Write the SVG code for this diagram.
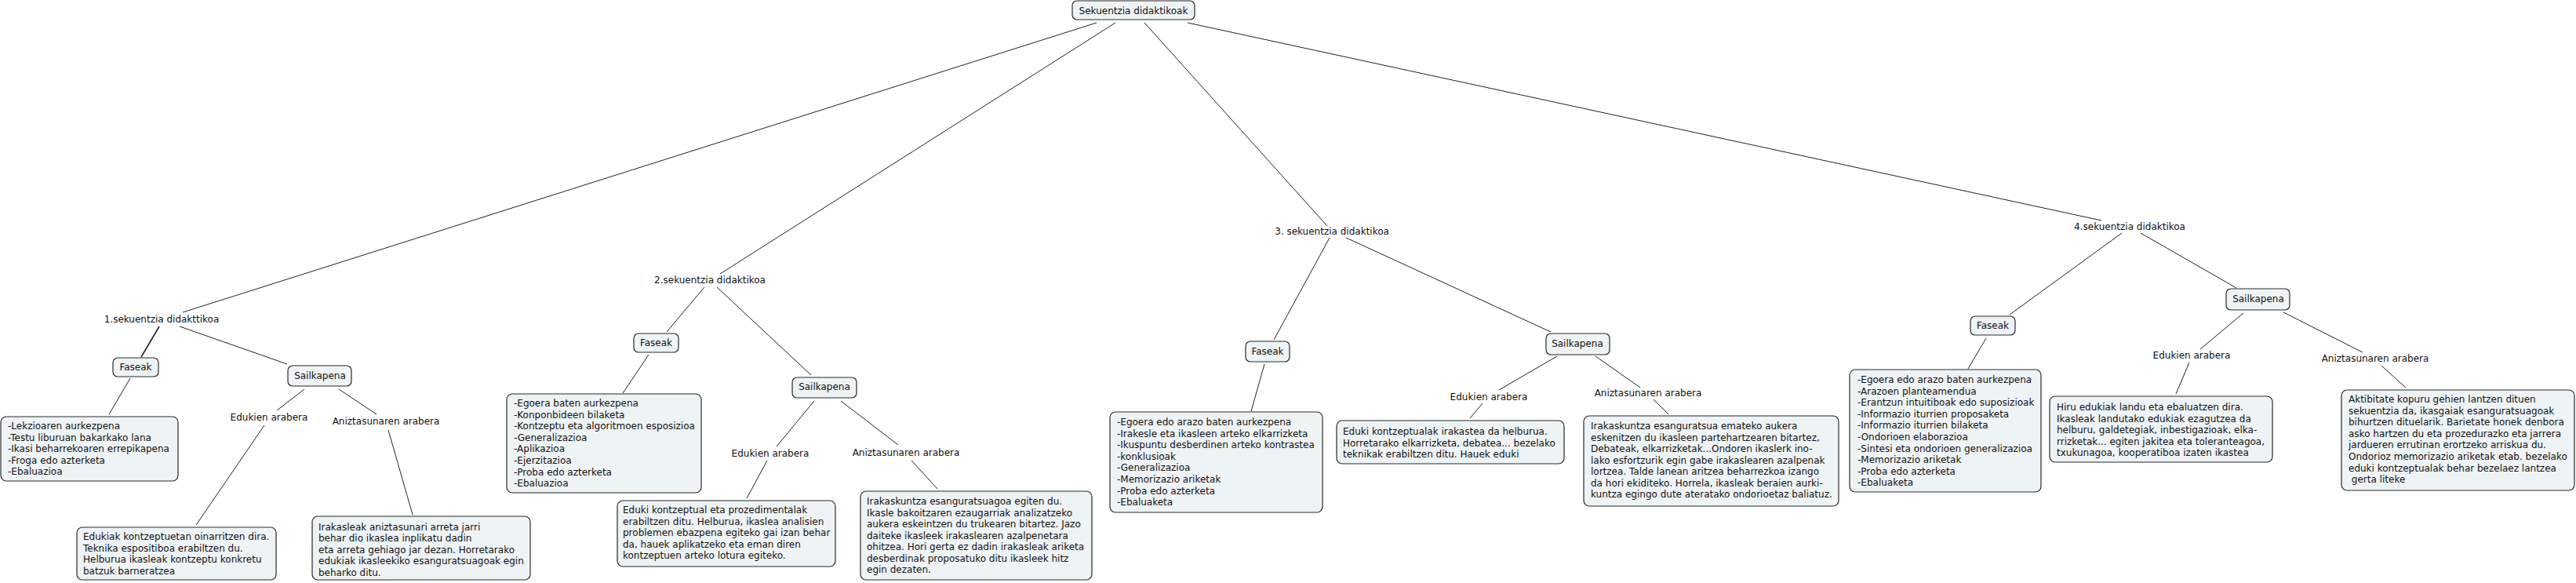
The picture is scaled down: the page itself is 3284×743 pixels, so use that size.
<svg xmlns="http://www.w3.org/2000/svg" width="3284" height="743" viewBox="0 0 3284 743">
<style>
text{font-family:"DejaVu Sans",Verdana,sans-serif;font-size:12px;fill:#111}
.c{text-anchor:middle}
rect{fill:#eef3f5;stroke:#2a2a2a;stroke-width:1.2}
#connectors line{stroke:#222;stroke-width:1}
</style>
<rect x="0" y="0" width="3284" height="743" style="fill:#fff;stroke:none"/>
<g id="connectors">
<line x1="1398" y1="29" x2="233" y2="398"/>
<line x1="1422" y1="29" x2="918" y2="349"/>
<line x1="1459" y1="29" x2="1692" y2="288"/>
<line x1="1514" y1="29" x2="2679" y2="281"/>
<line x1="203" y1="416" x2="180" y2="455" style="stroke-width:1.6"/>
<line x1="166" y1="482" x2="139" y2="528"/>
<line x1="229" y1="416" x2="366" y2="464"/>
<line x1="388" y1="496" x2="353" y2="523"/>
<line x1="337" y1="542" x2="250" y2="669"/>
<line x1="432" y1="496" x2="480" y2="528"/>
<line x1="495" y1="548" x2="526" y2="656"/>
<line x1="898" y1="366" x2="850" y2="423"/>
<line x1="827" y1="452" x2="794" y2="501"/>
<line x1="914" y1="366" x2="1034" y2="478"/>
<line x1="1038" y1="511" x2="990" y2="569"/>
<line x1="978" y1="587" x2="952" y2="635"/>
<line x1="1072" y1="511" x2="1145" y2="567"/>
<line x1="1162" y1="587" x2="1195" y2="623"/>
<line x1="1695" y1="303" x2="1624" y2="433"/>
<line x1="1612" y1="464" x2="1595" y2="524"/>
<line x1="1716" y1="303" x2="1977" y2="423"/>
<line x1="1985" y1="454" x2="1911" y2="497"/>
<line x1="1890" y1="514" x2="1874" y2="533"/>
<line x1="2034" y1="454" x2="2091" y2="494"/>
<line x1="2108" y1="509" x2="2127" y2="528"/>
<line x1="2705" y1="297" x2="2562" y2="401"/>
<line x1="2532" y1="431" x2="2509" y2="470"/>
<line x1="2729" y1="297" x2="2851" y2="367"/>
<line x1="2860" y1="399" x2="2805" y2="445"/>
<line x1="2791" y1="462" x2="2774" y2="502"/>
<line x1="2911" y1="398" x2="3012" y2="449"/>
<line x1="3036" y1="466" x2="3067" y2="494"/>
</g>
<g id="root"><rect x="1367" y="1" width="156" height="24" rx="6"/><text class="c" x="1445" y="18">Sekuentzia didaktikoak</text></g>

<g id="seq1"><text class="c" x="206" y="411">1.sekuentzia didakttikoa</text></g>
<g id="seq1-faseak"><rect x="144" y="456" width="58" height="24" rx="6"/><text class="c" x="173" y="472">Faseak</text></g>
<g id="seq1-faseak-list"><rect x="1" y="531" width="226" height="82" rx="7"/>
<text x="10" y="547"><tspan x="10">-Lekzioaren aurkezpena</tspan><tspan x="10" dy="14.6">-Testu liburuan bakarkako lana</tspan><tspan x="10" dy="14.6">-Ikasi beharrekoaren errepikapena</tspan><tspan x="10" dy="14.6">-Froga edo azterketa</tspan><tspan x="10" dy="14.6">-Ebaluazioa</tspan></text></g>
<g id="seq1-sailkapena"><rect x="367" y="466" width="81" height="26" rx="6"/><text class="c" x="408" y="483">Sailkapena</text></g>
<g id="seq1-edukien"><text class="c" x="343" y="536">Edukien arabera</text></g>
<g id="seq1-edukien-box"><rect x="98" y="672" width="254" height="67" rx="7"/>
<text x="106" y="688"><tspan x="106">Edukiak kontzeptuetan oinarritzen dira.</tspan><tspan x="106" dy="14.6">Teknika espositiboa erabiltzen du.</tspan><tspan x="106" dy="14.6">Helburua ikasleak kontzeptu konkretu</tspan><tspan x="106" dy="14.6">batzuk barneratzea</tspan></text></g>
<g id="seq1-aniz"><text class="c" x="492" y="541">Aniztasunaren arabera</text></g>
<g id="seq1-aniz-box"><rect x="398" y="658" width="278" height="81" rx="7"/>
<text x="406" y="676"><tspan x="406">Irakasleak aniztasunari arreta jarri</tspan><tspan x="406" dy="14.4">behar dio ikaslea inplikatu dadin</tspan><tspan x="406" dy="14.4">eta arreta gehiago jar dezan. Horretarako</tspan><tspan x="406" dy="14.4">edukiak ikasleekiko esanguratsuagoak egin</tspan><tspan x="406" dy="14.4">beharko ditu.</tspan></text></g>

<g id="seq2"><text class="c" x="905" y="361">2.sekuentzia didaktikoa</text></g>
<g id="seq2-faseak"><rect x="808" y="425" width="57" height="24" rx="6"/><text class="c" x="836.5" y="441">Faseak</text></g>
<g id="seq2-faseak-list"><rect x="646" y="502" width="248" height="126" rx="7"/>
<text x="655" y="518"><tspan x="655">-Egoera baten aurkezpena</tspan><tspan x="655" dy="14.6">-Konponbideen bilaketa</tspan><tspan x="655" dy="14.6">-Kontzeptu eta algoritmoen esposizioa</tspan><tspan x="655" dy="14.6">-Generalizazioa</tspan><tspan x="655" dy="14.6">-Aplikazioa</tspan><tspan x="655" dy="14.6">-Ejerzitazioa</tspan><tspan x="655" dy="14.6">-Proba edo azterketa</tspan><tspan x="655" dy="14.6">-Ebaluazioa</tspan></text></g>
<g id="seq2-sailkapena"><rect x="1010" y="481" width="82" height="26" rx="6"/><text class="c" x="1051" y="497">Sailkapena</text></g>
<g id="seq2-edukien"><text class="c" x="982" y="582">Edukien arabera</text></g>
<g id="seq2-edukien-box"><rect x="787" y="638" width="278" height="84" rx="7"/>
<text x="794" y="654"><tspan x="794">Eduki kontzeptual eta prozedimentalak</tspan><tspan x="794" dy="14.6">erabiltzen ditu. Helburua, ikaslea analisien</tspan><tspan x="794" dy="14.6">problemen ebazpena egiteko gai izan behar</tspan><tspan x="794" dy="14.6">da, hauek aplikatzeko eta eman diren</tspan><tspan x="794" dy="14.6">kontzeptuen arteko lotura egiteko.</tspan></text></g>
<g id="seq2-aniz"><text class="c" x="1155" y="581">Aniztasunaren arabera</text></g>
<g id="seq2-aniz-box"><rect x="1097" y="626" width="295" height="113" rx="7"/>
<text x="1105" y="643"><tspan x="1105">Irakaskuntza esanguratsuagoa egiten du.</tspan><tspan x="1105" dy="14.5">Ikasle bakoitzaren ezaugarriak analizatzeko</tspan><tspan x="1105" dy="14.5">aukera eskeintzen du trukearen bitartez. Jazo</tspan><tspan x="1105" dy="14.5">daiteke ikasleek irakaslearen azalpenetara</tspan><tspan x="1105" dy="14.5">ohitzea. Hori gerta ez dadin irakasleak ariketa</tspan><tspan x="1105" dy="14.5">desberdinak proposatuko ditu ikasleek hitz</tspan><tspan x="1105" dy="14.5">egin dezaten.</tspan></text></g>

<g id="seq3"><text class="c" x="1698" y="299">3. sekuentzia didaktikoa</text></g>
<g id="seq3-faseak"><rect x="1588" y="435" width="56" height="26" rx="6"/><text class="c" x="1616" y="452">Faseak</text></g>
<g id="seq3-faseak-list"><rect x="1415" y="525" width="271" height="128" rx="7"/>
<text x="1424" y="542"><tspan x="1424">-Egoera edo arazo baten aurkezpena</tspan><tspan x="1424" dy="14.6">-Irakesle eta ikasleen arteko elkarrizketa</tspan><tspan x="1424" dy="14.6">-Ikuspuntu desberdinen arteko kontrastea</tspan><tspan x="1424" dy="14.6">-konklusioak</tspan><tspan x="1424" dy="14.6">-Generalizazioa</tspan><tspan x="1424" dy="14.6">-Memorizazio ariketak</tspan><tspan x="1424" dy="14.6">-Proba edo azterketa</tspan><tspan x="1424" dy="14.6">-Ebaluaketa</tspan></text></g>
<g id="seq3-sailkapena"><rect x="1971" y="425" width="81" height="27" rx="6"/><text class="c" x="2011" y="442">Sailkapena</text></g>
<g id="seq3-edukien"><text class="c" x="1898" y="510">Edukien arabera</text></g>
<g id="seq3-edukien-box"><rect x="1704" y="536" width="290" height="55" rx="7"/>
<text x="1712" y="554"><tspan x="1712">Eduki kontzeptualak irakastea da helburua.</tspan><tspan x="1712" dy="14.6">Horretarako elkarrizketa, debatea... bezelako</tspan><tspan x="1712" dy="14.6">teknikak erabiltzen ditu. Hauek eduki</tspan></text></g>
<g id="seq3-aniz"><text class="c" x="2101" y="505">Aniztasunaren arabera</text></g>
<g id="seq3-aniz-box"><rect x="2019" y="530" width="325" height="115" rx="7"/>
<text x="2028" y="547"><tspan x="2028">Irakaskuntza esanguratsua emateko aukera</tspan><tspan x="2028" dy="14.5">eskenitzen du ikasleen partehartzearen bitartez,</tspan><tspan x="2028" dy="14.5">Debateak, elkarrizketak...Ondoren ikaslerk ino-</tspan><tspan x="2028" dy="14.5">lako esfortzurik egin gabe irakaslearen azalpenak</tspan><tspan x="2028" dy="14.5">lortzea. Talde lanean aritzea beharrezkoa izango</tspan><tspan x="2028" dy="14.5">da hori ekiditeko. Horrela, ikasleak beraien aurki-</tspan><tspan x="2028" dy="14.5">kuntza egingo dute ateratako ondorioetaz baliatuz.</tspan></text></g>

<g id="seq4"><text class="c" x="2715" y="293">4.sekuentzia didaktikoa</text></g>
<g id="seq4-faseak"><rect x="2512" y="403" width="57" height="24" rx="6"/><text class="c" x="2540.5" y="419">Faseak</text></g>
<g id="seq4-faseak-list"><rect x="2358" y="471" width="244" height="156" rx="7"/>
<text x="2368" y="488"><tspan x="2368">-Egoera edo arazo baten aurkezpena</tspan><tspan x="2368" dy="14.6">-Arazoen planteamendua</tspan><tspan x="2368" dy="14.6">-Erantzun intuitiboak edo suposizioak</tspan><tspan x="2368" dy="14.6">-Informazio iturrien proposaketa</tspan><tspan x="2368" dy="14.6">-Informazio iturrien bilaketa</tspan><tspan x="2368" dy="14.6">-Ondorioen elaborazioa</tspan><tspan x="2368" dy="14.6">-Sintesi eta ondorioen generalizazioa</tspan><tspan x="2368" dy="14.6">-Memorizazio ariketak</tspan><tspan x="2368" dy="14.6">-Proba edo azterketa</tspan><tspan x="2368" dy="14.6">-Ebaluaketa</tspan></text></g>
<g id="seq4-sailkapena"><rect x="2838" y="368" width="81" height="27" rx="6"/><text class="c" x="2879" y="385">Sailkapena</text></g>
<g id="seq4-edukien"><text class="c" x="2794" y="457">Edukien arabera</text></g>
<g id="seq4-edukien-box"><rect x="2613" y="505" width="284" height="84" rx="7"/>
<text x="2622" y="523"><tspan x="2622">Hiru edukiak landu eta ebaluatzen dira.</tspan><tspan x="2622" dy="14.5">Ikasleak landutako edukiak ezagutzea da</tspan><tspan x="2622" dy="14.5">helburu, galdetegiak, inbestigazioak, elka-</tspan><tspan x="2622" dy="14.5">rrizketak... egiten jakitea eta toleranteagoa,</tspan><tspan x="2622" dy="14.5">txukunagoa, kooperatiboa izaten ikastea</tspan></text></g>
<g id="seq4-aniz"><text class="c" x="3028" y="461">Aniztasunaren arabera</text></g>
<g id="seq4-aniz-box"><rect x="2985" y="497" width="297" height="128" rx="7"/>
<text x="2994" y="513"><tspan x="2994">Aktibitate kopuru gehien lantzen dituen</tspan><tspan x="2994" dy="14.6">sekuentzia da, ikasgaiak esanguratsuagoak</tspan><tspan x="2994" dy="14.6">bihurtzen dituelarik. Barietate honek denbora</tspan><tspan x="2994" dy="14.6">asko hartzen du eta prozedurazko eta jarrera</tspan><tspan x="2994" dy="14.6">jardueren errutinan erortzeko arriskua du.</tspan><tspan x="2994" dy="14.6">Ondorioz memorizazio ariketak etab. bezelako</tspan><tspan x="2994" dy="14.6">eduki kontzeptualak behar bezelaez lantzea</tspan><tspan x="2994" dy="14.6">&#160;gerta liteke</tspan></text></g>
</svg>
